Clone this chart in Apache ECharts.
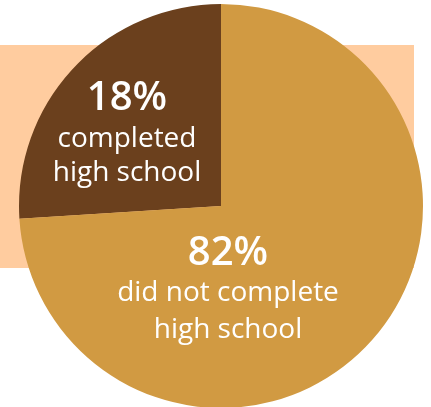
<!DOCTYPE html>
<html>
<head>
<meta charset="utf-8">
<script src="https://cdn.jsdelivr.net/npm/echarts@6/dist/echarts.min.js"></script>
<style>
html,body{margin:0;padding:0;background:#fff;}
#chart{width:431px;height:407px;}
</style>
</head>
<body>
<div id="chart"></div>
<script>
// Data
const categories = ['completed high school', 'did not complete high school'];
const percentLabels = ['18%', '82%'];
const labelLines = [['completed', 'high school'], ['did not complete', 'high school']];
// Angular shares as drawn in the picture
const sliceValues = [26, 74];
const sliceColors = ['#6B401D', '#D19A42'];

const chart = echarts.init(document.getElementById('chart'), null, {renderer: 'canvas'});

const font = '"Open Sans", "DejaVu Sans", sans-serif';
const textEls = [];
const labelPos = [
  {x: 127, ys: [99, 139, 173]},
  {x: 228, ys: [254, 293, 330]}
];
percentLabels.forEach((p, i) => {
  textEls.push({
    type: 'text', z: 100,
    style: {text: p, x: labelPos[i].x, y: labelPos[i].ys[0], align: 'center', verticalAlign: 'middle',
      fill: '#fff', font: '600 40px ' + font}
  });
  labelLines[i].forEach((t, j) => {
    textEls.push({
      type: 'text', z: 100,
      style: {text: t, x: labelPos[i].x, y: labelPos[i].ys[j + 1], align: 'center', verticalAlign: 'middle',
        fill: '#fff', font: '400 28px ' + font}
    });
  });
});

chart.setOption({
  animation: false,
  backgroundColor: '#fff',
  graphic: [
    {type: 'rect', z: -10, shape: {x: 0, y: 45, width: 414, height: 223}, style: {fill: '#FFCC9F'}},
    ...textEls
  ],
  series: [{
    type: 'pie',
    center: [221, 206],
    radius: 202,
    startAngle: 90,
    clockwise: false,
    label: {show: false},
    labelLine: {show: false},
    emphasis: {disabled: true},
    itemStyle: {borderWidth: 0},
    data: categories.map((c, i) => ({name: c, value: sliceValues[i], itemStyle: {color: sliceColors[i]}}))
  }]
});
</script>
</body>
</html>
